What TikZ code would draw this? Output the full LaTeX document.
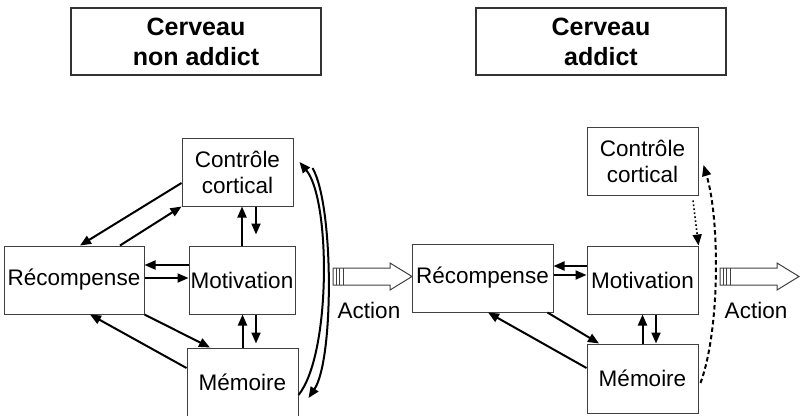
\documentclass[tikz,border=0pt]{standalone}
\usepackage{fontspec}
\setmainfont{Liberation Sans}
\usetikzlibrary{arrows.meta,calc}
\begin{document}
\begin{tikzpicture}[x=1pt,y=-1pt,
  box/.style={draw=black!75, line width=1pt, minimum height=68pt, inner sep=0pt, align=center, font=\fontsize{22.5}{26}\selectfont},
  titlebox/.style={draw=black!80, line width=1.2pt, minimum width=250pt, minimum height=67pt, inner sep=0pt, align=center, font=\bfseries\fontsize{25}{30}\selectfont},
  lbl/.style={inner sep=0pt, font=\fontsize{22.5}{26}\selectfont},
  arr/.style={-{Triangle[length=11pt,width=9pt]}, line width=2pt, black},
  actline/.style={draw=black!75, line width=1pt}
]
\useasboundingbox (0,0) rectangle (800,415);
\clip (0,0) rectangle (800,415);

% titles
\node[titlebox] (T1) at (196,41.5) {Cerveau\\non addict};
\node[titlebox] (T2) at (601,41.5) {Cerveau\\addict};

% ---------- left panel ----------
\node[box, minimum width=111pt] (C1) at (237.5,172) {Contrôle\\cortical};
\node[box, minimum width=140pt] (R1) at (74,280) {Récompense};
\node[box, minimum width=106pt] (M1) at (242,280) {Motivation};
\node[box, minimum width=111pt] (Me1) at (242.5,382) {Mémoire};

\draw[arr] ([yshift=-11pt]C1.west) -- ([xshift=6pt]R1.north);
\draw[arr] ([xshift=46pt]R1.north) -- (C1.south west);
\draw[arr] ($(M1.west)+(0,-15)$) -- ($(R1.east)+(0,-15)$);
\draw[arr] ($(R1.east)+(0,-2)$) -- ($(M1.west)+(0,-2)$);
\draw[arr] (M1.north) -- (M1.north |- C1.south);
\draw[arr, shorten >=11pt] ($(C1.south -| M1.north)+(14,0)$) -- ($(M1.north)+(14,0)$);
\draw[arr] (Me1.north) -- (Me1.north |- M1.south);
\draw[arr, shorten >=4pt] ($(M1.south)+(14,0)$) -- ($(Me1.north -| M1.south)+(14,0)$);
\draw[arr] (R1.south east) -- ($(Me1.north)+(-32.5,0)$);
\draw[arr] ($(Me1.west)+(0,-14)$) -- ($(R1.south)+(16,0)$);
\draw[arr] ($(Me1.east)+(0,13)$) .. controls (331,355) and (331,200) .. ($(C1.east)+(6,-10)$);
\draw[arr] ($(C1.east)+(19,-4)$) .. controls (334,205) and (334,360) .. ($(Me1.east)+(10,16)$);

% ---------- right panel ----------
\node[box, minimum width=111pt] (C2) at (642.5,161) {Contrôle\\cortical};
\node[box, minimum width=141pt] (R2) at (482.5,278) {Récompense};
\node[box, minimum width=111pt] (M2) at (642.5,280) {Motivation};
\node[box, minimum width=111pt, minimum height=69pt] (Me2) at (642.5,378.5) {Mémoire};

\draw[arr] ($(M2.west)+(0,-14)$) -- ($(M2.west -| R2.east)+(0,-14)$);
\draw[arr] ($(M2.west -| R2.east)+(0,-5)$) -- ($(M2.west)+(0,-5)$);
\draw[arr, line width=1.6pt, dash pattern=on 1.6pt off 2.4pt] ($(C2.south)+(50.5,5)$) -- (M2.north east);
\draw[arr] ($(R2.south east)+(-6,0)$) -- ($(Me2.north)+(-43.5,0)$);
\draw[arr] ($(Me2.west)+(0,-10.5)$) -- ($(R2.south)+(5.5,0)$);
\draw[arr] (Me2.north) -- (Me2.north |- M2.south);
\draw[arr] ($(M2.south)+(13.5,0)$) -- ($(Me2.north)+(13.5,0)$);
\draw[arr, dash pattern=on 4.5pt off 3pt] ($(Me2.east)+(2,4.5)$) .. controls (720,330) and (720,220) .. ($(C2.east)+(5,4)$);

% ---------- action arrows ----------
\foreach \s in {0,387} {
  \begin{scope}[xshift=\s pt]
    \draw[actline] (333,268) -- (390,268) -- (390,263) -- (412,276.5) -- (390,290) -- (390,285) -- (333,285) -- cycle;
    \foreach \x in {336.5,339.5,343} \draw[actline] (\x,268) -- (\x,285);
  \end{scope}
}
\node[lbl] (A1) at (369,310.5) {Action};
\node[lbl] (A2) at (756,310.5) {Action};
\end{tikzpicture}
\end{document}
